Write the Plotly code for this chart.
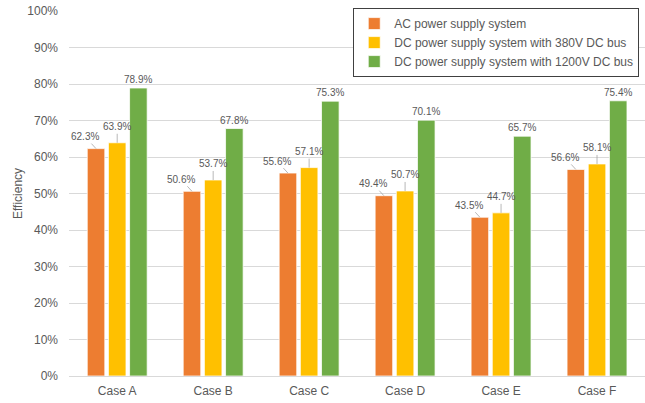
import plotly.graph_objects as go

cases = ["Case A", "Case B", "Case C", "Case D", "Case E", "Case F"]
ac_system = [62.3, 50.6, 55.6, 49.4, 43.5, 56.6]
dc_380v = [63.9, 53.7, 57.1, 50.7, 44.7, 58.1]
dc_1200v = [78.9, 67.8, 75.3, 70.1, 65.7, 75.4]

series = [
    ("AC power supply system", ac_system, "#ED7D31"),
    ("DC power supply system with 380V DC bus", dc_380v, "#FFC000"),
    ("DC power supply system with 1200V DC bus", dc_1200v, "#70AD47"),
]

label_color = "#595959"
font_family = "Liberation Sans, Arial, sans-serif"

fig = go.Figure()
for name, vals, color in series:
    fig.add_trace(go.Bar(
        name=name, x=cases, y=[v / 100 for v in vals],
        marker=dict(color=color, line=dict(color="white", width=0.75)),
    ))

# data labels: orange and yellow sit off the bar with a thin leader line
slot_px = 21.2
anns = []
for i, c in enumerate(cases):
    anns.append(dict(
        x=c, y=ac_system[i] / 100, xshift=-slot_px, text=f"{ac_system[i]:.1f}%",
        showarrow=True, arrowhead=0, arrowwidth=0.8, arrowcolor="#a6a6a6",
        ax=-11, ay=-12, standoff=0,
        font=dict(size=10, color=label_color, family=font_family)))
    anns.append(dict(
        x=c, y=dc_380v[i] / 100, xshift=0, text=f"{dc_380v[i]:.1f}%",
        showarrow=True, arrowhead=0, arrowwidth=0.8, arrowcolor="#a6a6a6",
        ax=0, ay=-16, standoff=0,
        font=dict(size=10, color=label_color, family=font_family)))
    anns.append(dict(
        x=c, y=dc_1200v[i] / 100, xshift=slot_px, text=f"{dc_1200v[i]:.1f}%",
        showarrow=False, yanchor="bottom", yshift=1,
        font=dict(size=10, color=label_color, family=font_family)))

fig.update_layout(
    width=645, height=403,
    margin=dict(l=69, r=0, t=11, b=27),
    paper_bgcolor="white", plot_bgcolor="white",
    barmode="group", bargap=0.338, bargroupgap=0.17,
    font=dict(family=font_family, size=12, color=label_color),
    annotations=anns,
    legend=dict(
        x=0.99, y=1.008, xanchor="right", yanchor="top",
        bgcolor="white", bordercolor="#404040", borderwidth=1,
        font=dict(size=12, color=label_color),
        itemwidth=30, tracegroupgap=0,
    ),
    yaxis=dict(
        range=[0, 1], dtick=0.1, tickformat=".0%",
        showgrid=True, gridcolor="#d9d9d9", gridwidth=1,
        zeroline=True, zerolinecolor="#d9d9d9", zerolinewidth=1,
        ticks="", ticklabelstandoff=10,
        title=dict(text="Efficiency", font=dict(size=12, color=label_color), standoff=2),
    ),
    xaxis=dict(
        showline=True, linecolor="#d9d9d9", ticks="", ticklabelstandoff=4,
        tickfont=dict(size=12, color=label_color),
    ),
)

fig.write_html("out.html")
